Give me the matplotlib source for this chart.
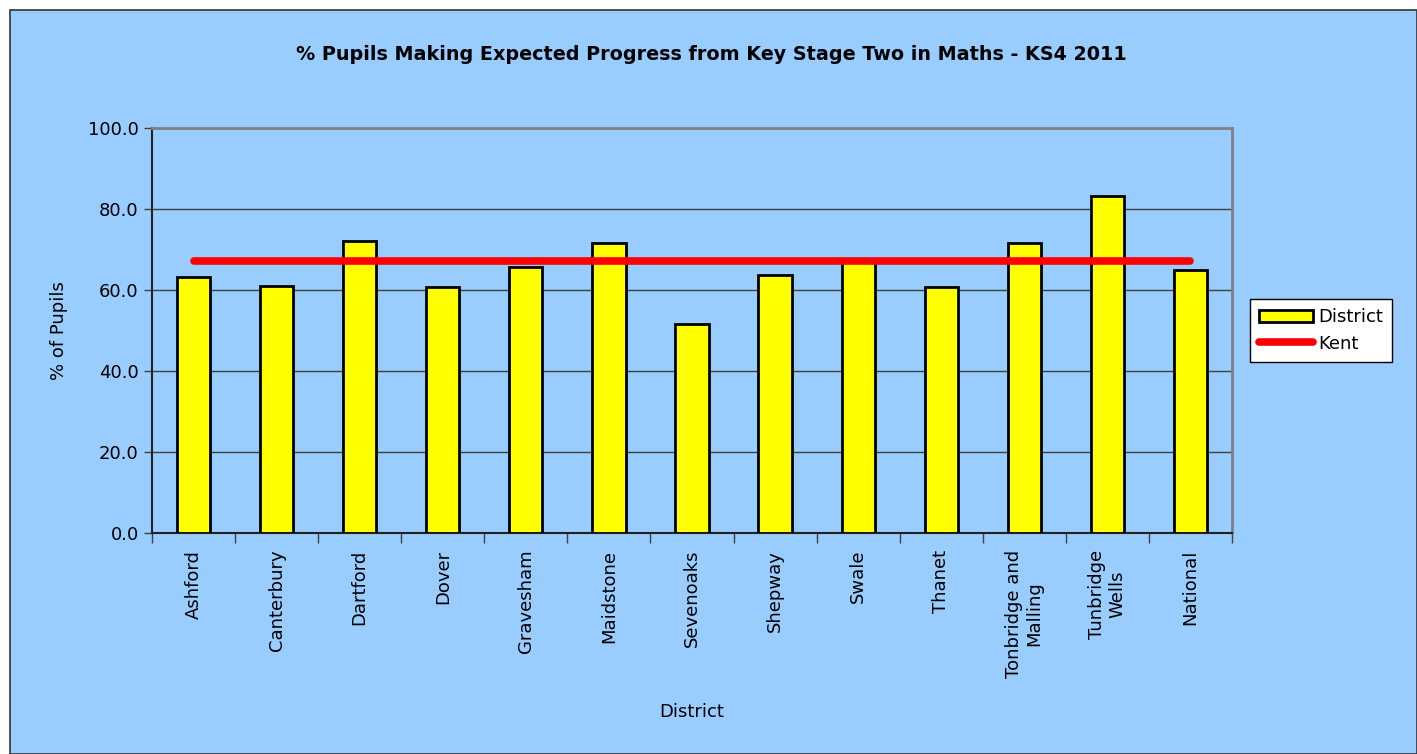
import matplotlib.pyplot as plt
from matplotlib.patches import Rectangle
import numpy as np

districts = ["Ashford", "Canterbury", "Dartford", "Dover", "Gravesham",
             "Maidstone", "Sevenoaks", "Shepway", "Swale", "Thanet",
             "Tonbridge and\nMalling", "Tunbridge\nWells", "National"]
district_pct = [63.2, 61.1, 72.2, 60.7, 65.6, 71.5, 51.5, 63.7, 67.0, 60.8,
                71.5, 83.2, 64.9]
kent_pct = [67.2] * len(districts)
y_ticks = [0, 20, 40, 60, 80, 100]

bg = "#99CCFF"

fig = plt.figure(figsize=(14.17, 7.54), dpi=100)
fig.patch.set_facecolor("white")

# blue chart area with dark frame
fig.patches.append(Rectangle((10 / 1417, 0), 1 - 10 / 1417, 1 - 10 / 754,
                             transform=fig.transFigure, facecolor=bg,
                             edgecolor="#333333", linewidth=1.2, zorder=-10))

ax = fig.add_axes([152 / 1417, 1 - 533 / 754, 1080 / 1417, 405 / 754])
ax.set_facecolor(bg)

x = np.arange(len(districts))

bars = ax.bar(x, district_pct, width=0.4, color="#FFFF00", edgecolor="black",
              linewidth=2, label="District", zorder=3)
kent_line, = ax.plot(x, kent_pct, color="#FF0000", linewidth=5.5,
                     solid_capstyle="round", label="Kent", zorder=4)

ax.set_xlim(-0.5, len(districts) - 0.5)
ax.set_ylim(0, 100)
ax.set_yticks(y_ticks)
ax.set_yticklabels([f"{v:.1f}" for v in y_ticks], fontsize=13)
ax.yaxis.grid(True, color="#404040", linewidth=1, zorder=1)
ax.set_axisbelow(True)

ax.set_xticks(x)
ax.set_xticklabels(districts, rotation=90, fontsize=13, va="top",
                   ha="center", multialignment="center")
ax.tick_params(axis="x", length=0, pad=12)
# tick marks between categories
ax.set_xticks(np.arange(-0.5, len(districts)), minor=True)
ax.tick_params(axis="x", which="minor", length=7, width=1, color="#404040")
ax.tick_params(axis="y", length=6, width=1, color="#404040")

for side in ["top", "right"]:
    ax.spines[side].set_color("#808080")
    ax.spines[side].set_linewidth(2)
for side in ["left", "bottom"]:
    ax.spines[side].set_color("#222222")
    ax.spines[side].set_linewidth(1.5)

ax.set_ylabel("% of Pupils", fontsize=13, labelpad=14)
ax.set_xlabel("District", fontsize=13, labelpad=18)

fig.text(711 / 1417, 1 - 55 / 754,
         "% Pupils Making Expected Progress from Key Stage Two in Maths - KS4 2011",
         ha="center", va="center", fontsize=13.8, fontweight="bold")

leg = ax.legend([bars, kent_line], ["District", "Kent"],
                loc="center left", bbox_to_anchor=(1.0165, 0.50),
                fontsize=13, frameon=True, fancybox=False, framealpha=1,
                borderpad=0.5, handlelength=3.0, handletextpad=0.3,
                labelspacing=0.45, borderaxespad=0)
leg.get_frame().set_edgecolor("black")
leg.get_frame().set_linewidth(1)
leg.get_frame().set_facecolor("white")

fig.savefig("out.png", dpi=100, facecolor=fig.get_facecolor())
